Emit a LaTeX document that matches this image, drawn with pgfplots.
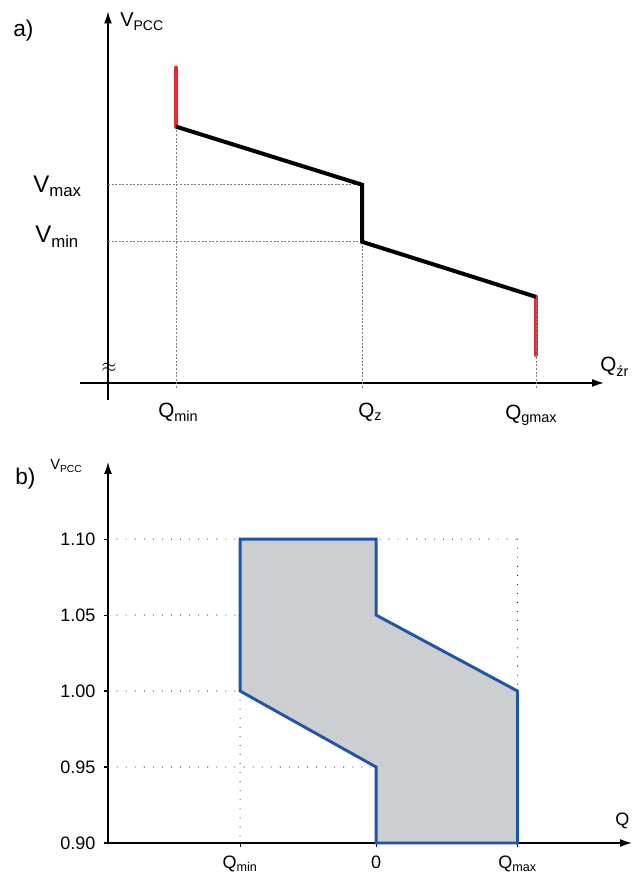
\documentclass[border=0pt]{standalone}
\usepackage{pgfplots}
\pgfplotsset{compat=1.18}
\usepackage{fontspec}
\setmainfont{Liberation Sans}
\usetikzlibrary{arrows.meta}
\definecolor{myred}{RGB}{232,40,44}
\definecolor{myblue}{RGB}{32,84,166}
\definecolor{myfill}{RGB}{204,206,208}
\definecolor{dotgray}{RGB}{125,125,125}
\begin{document}
\begin{tikzpicture}
\useasboundingbox (0,0) rectangle (480.75pt,656.25pt);
% ---------- panel a ----------
\begin{axis}[
  at={(60pt,356.25pt)}, anchor=south west,
  scale only axis, width=393pt, height=291pt,
  xmin=-28, xmax=496, ymin=-17, ymax=371,
  enlargelimits=false, clip=false,
  axis lines=middle,
  axis line style={line width=1.1pt, -{Latex[length=9pt,width=6pt]}},
  xtick=\empty, ytick=\empty,
]
\addplot[dotgray, line width=0.7pt, dash pattern=on 1.5pt off 1.2pt] coordinates {(0,198) (254,198)};
\addplot[dotgray, line width=0.7pt, dash pattern=on 1.5pt off 1.2pt] coordinates {(0,141) (254,141)};
\addplot[dotgray, line width=0.7pt, dash pattern=on 1.5pt off 1.2pt] coordinates {(68,-5) (68,256)};
\addplot[dotgray, line width=0.7pt, dash pattern=on 1.5pt off 1.2pt] coordinates {(254,-5) (254,141)};
\addplot[myred, line width=3pt, line cap=round] coordinates {(68,256) (68,315)};
\addplot[myred, line width=3pt, line cap=round] coordinates {(428,86) (428,28)};
\addplot[black, line width=3pt, line join=miter] coordinates {(68,256) (254,198) (254,141) (428,86)};
\addplot[dotgray, line width=0.7pt, dash pattern=on 1.5pt off 1.2pt] coordinates {(428,-5) (428,86)};
\end{axis}
% ---------- panel b ----------
\begin{axis}[
  at={(81pt,24pt)}, anchor=south west,
  scale only axis, width=393pt, height=285.75pt,
  xmin=-1.971, xmax=1.882, ymin=0.90, ymax=1.1507,
  enlargelimits=false, clip=false,
  axis lines=left,
  axis line style={line width=1.1pt, -{Latex[length=9pt,width=6pt]}},
  tick align=outside, major tick length=3pt,
  tick style={black, line width=0.8pt},
  ytick={0.90,0.95,1.00,1.05,1.10},
  yticklabels={0.90,0.95,1.00,1.05,1.10},
  xtick={-1,0,1.04},
  xticklabels={Q\textsubscript{min},0,Q\textsubscript{max}},
  ticklabel style={font=\fontsize{13.5}{16}\selectfont},
  yticklabel style={xshift=-3pt},
  xticklabel style={yshift=-3pt},
  /pgf/number format/assume math mode=true,
]
\addplot[black, line width=0.8pt, line cap=round, dash pattern=on 0pt off 6.8pt] coordinates {(-1.971,1.10) (1.04,1.10)};
\addplot[black, line width=0.8pt, line cap=round, dash pattern=on 0pt off 6.8pt] coordinates {(-1.971,1.05) (-1,1.05)};
\addplot[black, line width=0.8pt, line cap=round, dash pattern=on 0pt off 6.8pt] coordinates {(-1.971,1.00) (-1,1.00)};
\addplot[black, line width=0.8pt, line cap=round, dash pattern=on 0pt off 6.8pt] coordinates {(-1.971,0.95) (0,0.95)};
\addplot[black, line width=0.8pt, line cap=round, dash pattern=on 0pt off 6.8pt] coordinates {(1.04,1.10) (1.04,1.00)};
\addplot[black, line width=0.8pt, line cap=round, dash pattern=on 0pt off 6.8pt] coordinates {(-1,1.00) (-1,0.90)};
\addplot[fill=myfill, draw=myblue, line width=2.2pt, line join=miter] coordinates {(-1,1.10) (0,1.10) (0,1.05) (1.04,1.00) (1.04,0.90) (0,0.90) (0,0.95) (-1,1.00)} -- cycle;
\end{axis}
% ---------- labels ----------
\node[anchor=west, inner sep=0pt, font=\fontsize{17}{20}\selectfont] at (9.75pt,633pt) {a)};
\node[anchor=base west, inner sep=0pt, font=\fontsize{15}{18}\selectfont] at (90pt,636pt) {V\textsubscript{PCC}};
\node[anchor=base west, inner sep=0pt, font=\fontsize{18}{21}\selectfont] at (24.75pt,511.5pt) {V\textsubscript{max}};
\node[anchor=base west, inner sep=0pt, font=\fontsize{18}{21}\selectfont] at (26.25pt,474pt) {V\textsubscript{min}};
\node[anchor=base west, inner sep=0pt, font=\fontsize{15.5}{18}\selectfont] at (118.5pt,342.75pt) {Q\textsubscript{min}};
\node[anchor=base west, inner sep=0pt, font=\fontsize{15.5}{18}\selectfont] at (268.5pt,342.75pt) {Q\textsubscript{z}};
\node[anchor=base west, inner sep=0pt, font=\fontsize{15.5}{18}\selectfont] at (378.75pt,341.25pt) {Q\textsubscript{gmax}};
\node[anchor=base west, inner sep=0pt, font=\fontsize{15.5}{18}\selectfont] at (450pt,377.25pt) {Q\textsubscript{źr}};
\node[font=\fontsize{15}{18}\selectfont, inner sep=0pt] at (81.75pt,380.25pt) {$\approx$};
\node[anchor=west, inner sep=0pt, font=\fontsize{17}{20}\selectfont] at (11.25pt,297pt) {b)};
\node[anchor=base west, inner sep=0pt, font=\fontsize{11}{13}\selectfont] at (37.5pt,303.75pt) {V\textsubscript{PCC}};
\node[anchor=base west, inner sep=0pt, font=\fontsize{13.5}{16}\selectfont] at (461.25pt,36.75pt) {Q};
\end{tikzpicture}
\end{document}
